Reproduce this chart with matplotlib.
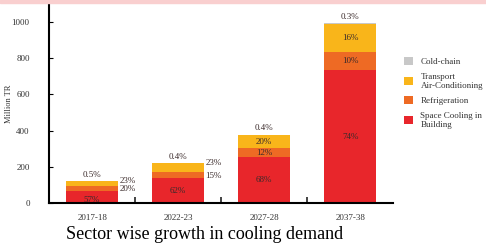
import matplotlib.pyplot as plt
from matplotlib.patches import Rectangle

# datos
years = ['2017-18', '2022-23', '2027-28', '2037-38']
space = [68, 137, 256, 733]
refrig = [24, 33, 45, 99]
transport = [28, 51, 75, 158]
cold = [0.6, 0.9, 1.5, 3.0]

pct_space = ['57%', '62%', '68%', '74%']
pct_refrig = ['20%', '15%', '12%', '10%']
pct_transport = ['23%', '23%', '20%', '16%']
pct_cold = ['0.5%', '0.4%', '0.4%', '0.3%']

c_space = '#E8262B'
c_refrig = '#EE6A24'
c_transport = '#F9B51A'
c_cold = '#C8C8C8'

plt.rcParams['font.family'] = ['Liberation Serif', 'DejaVu Serif']

fig = plt.figure(figsize=(4.86, 2.46), dpi=100)
fig.patches.append(Rectangle((0, 0.988), 1, 0.012, transform=fig.transFigure,
                             color='#F9CFCF', zorder=0))
ax = fig.add_axes([0.101, 0.175, 0.708, 0.805])

x = list(range(len(years)))
b1 = [s + r for s, r in zip(space, refrig)]
b2 = [a + t for a, t in zip(b1, transport)]

ax.bar(x, space, width=0.6, color=c_space, label='Space Cooling in\nBuilding')
ax.bar(x, refrig, width=0.6, bottom=space, color=c_refrig, label='Refrigeration')
ax.bar(x, transport, width=0.6, bottom=b1, color=c_transport, label='Transport\nAir-Conditioning')
ax.bar(x, cold, width=0.6, bottom=b2, color=c_cold, label='Cold-chain')

fs = 6.5
tc = '#3a2a2a'
for i in x:
    ax.text(i, space[i] / 2 if i > 0 else space[i] * 0.25, pct_space[i], ha='center', va='center', fontsize=fs, color=tc)
    if i < 2:
        ax.text(i + 0.32, space[i] + refrig[i] * 0.3, pct_refrig[i], ha='left', va='center', fontsize=fs, color=tc)
        ax.text(i + 0.32, b1[i] + transport[i] * 0.95, pct_transport[i], ha='left', va='center', fontsize=fs, color=tc)
    else:
        ax.text(i, space[i] + refrig[i] / 2, pct_refrig[i], ha='center', va='center', fontsize=fs, color=tc)
        ax.text(i, b1[i] + transport[i] / 2, pct_transport[i], ha='center', va='center', fontsize=fs, color=tc)
    ax.text(i, b2[i] + cold[i] + 12, pct_cold[i], ha='center', va='bottom', fontsize=fs, color=tc)

ax.set_xlim(-0.5, 3.5)
ax.set_ylim(0, 1094)
ax.set_yticks([0, 200, 400, 600, 800, 1000])
ax.set_xticks(x)
ax.set_xticklabels(years)
ax.set_xticks([0.5, 1.5, 2.5], minor=True)
ax.tick_params(axis='x', which='major', length=0, labelsize=6.5, labelcolor='#333333', pad=8)
ax.tick_params(axis='x', which='minor', direction='in', length=4, width=1.2, color='#222222')
ax.tick_params(axis='y', direction='in', length=3, labelsize=6.5, labelcolor='#333333', pad=14)
ax.spines['top'].set_visible(False)
ax.spines['right'].set_visible(False)
ax.spines['left'].set_linewidth(1.5)
ax.spines['bottom'].set_linewidth(1.5)
ax.set_ylabel('Million TR', fontsize=6, color='#333333')
ax.yaxis.set_label_coords(-0.105, 0.5)

h, l = ax.get_legend_handles_labels()
fig.legend(h[::-1], l[::-1], loc='upper left', bbox_to_anchor=(0.815, 0.8), frameon=False,
           fontsize=6.5, handlelength=1.0, handleheight=1.0, handletextpad=0.8, labelspacing=0.7,
           labelcolor='#333333')

fig.text(0.42, 0.045, 'Sector wise growth in cooling demand', ha='center', va='center', fontsize=13)

plt.savefig('out.png', dpi=100)
